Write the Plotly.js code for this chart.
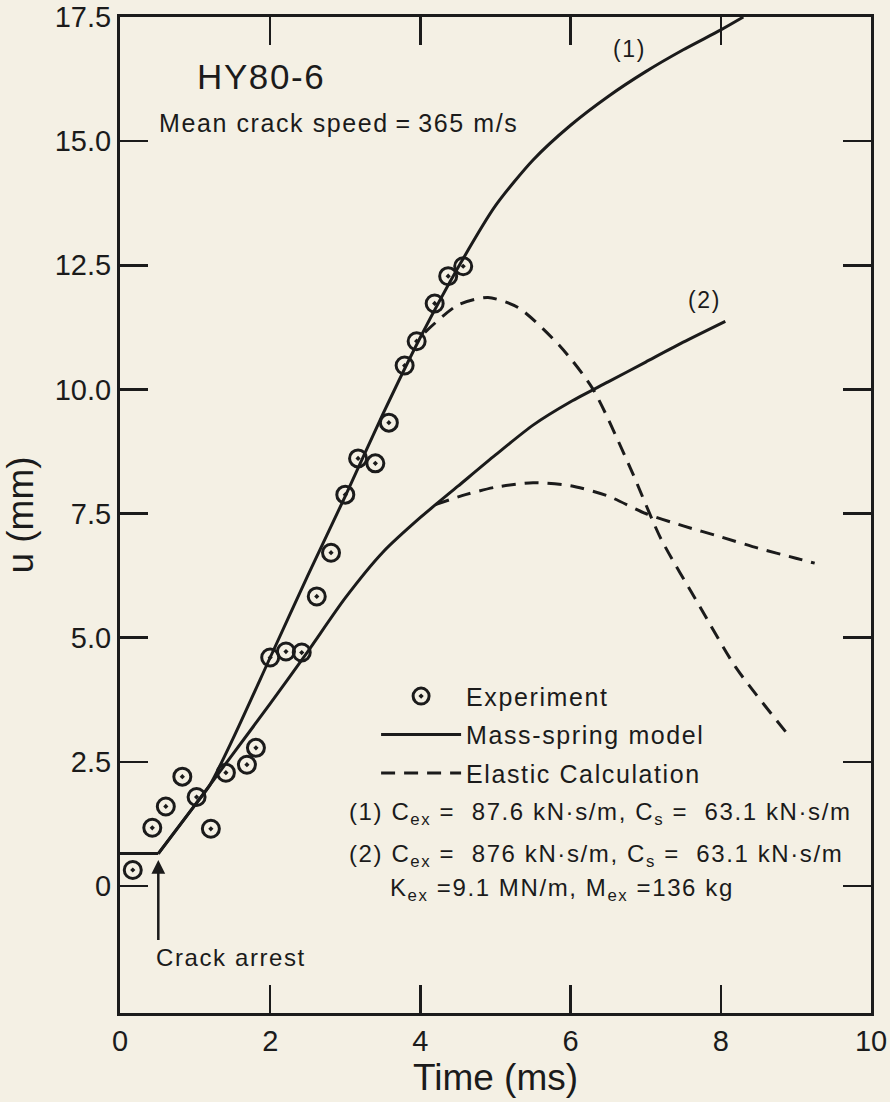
<!DOCTYPE html>
<html>
<head>
<meta charset="utf-8">
<script src="https://cdn.plot.ly/plotly-3.0.1.min.js"></script>
<style>
  body { margin: 0; background: #f4f0e4; }
  text.annotation-text, text.legendtext { letter-spacing: 1.6px; }
</style>
</head>
<body>
<div id="chart" style="width:890px;height:1102px"></div>
<script>
// Measured crack-opening displacement, HY80-6 test
const expTime = [0.17, 0.43, 0.61, 0.83, 1.02, 1.21, 1.41, 1.69, 1.81, 2.0, 2.21, 2.42, 2.62, 2.81, 3.0, 3.17, 3.4, 3.58, 3.79, 3.95, 4.19, 4.37, 4.57];
const expDisp = [0.32, 1.17, 1.6, 2.2, 1.79, 1.15, 2.28, 2.44, 2.78, 4.6, 4.72, 4.7, 5.83, 6.71, 7.88, 8.61, 8.51, 9.33, 10.48, 10.97, 11.73, 12.28, 12.48];

// Constant opening before the crack arrests (shared by both model cases)
const arrestTime = [0, 0.51];
const arrestDisp = [0.65, 0.65];

// Mass-spring model after arrest, case (1)
const model1Time = [0.51, 1.0, 1.2, 1.5, 2.0, 2.5, 3.0, 3.5, 4.0, 4.5, 5.0, 5.5, 6.0, 6.5, 7.0, 7.5, 8.0, 8.3];
const model1Disp = [0.65, 1.63, 2.04, 2.95, 4.6, 6.25, 7.85, 9.5, 11.05, 12.45, 13.7, 14.62, 15.32, 15.9, 16.4, 16.84, 17.24, 17.5];

// Mass-spring model after arrest, case (2)
const model2Time = [0.51, 1.0, 1.5, 2.0, 2.5, 3.0, 3.5, 4.0, 4.5, 5.0, 5.5, 6.0, 6.5, 7.0, 7.5, 8.06];
const model2Disp = [0.65, 1.63, 2.65, 3.67, 4.72, 5.8, 6.72, 7.42, 8.05, 8.68, 9.28, 9.75, 10.15, 10.55, 10.95, 11.37];

// Elastic calculation, case (1)
const elastic1Time = [4.06, 4.5, 4.9, 5.3, 5.86, 6.3, 6.8, 7.2, 7.72, 8.2, 8.92];
const elastic1Disp = [11.15, 11.7, 11.85, 11.65, 10.87, 10.0, 8.4, 7.0, 5.63, 4.4, 3.0];

// Elastic calculation, case (2)
const elastic2Time = [4.2, 4.6, 5.0, 5.5, 6.0, 6.5, 7.0, 7.5, 8.0, 8.5, 9.0, 9.25];
const elastic2Disp = [7.68, 7.88, 8.03, 8.12, 8.06, 7.85, 7.5, 7.25, 7.03, 6.8, 6.6, 6.5];

const xTickVals = [0, 2, 4, 6, 8, 10];
const yTickVals = [0, 2.5, 5, 7.5, 10, 12.5, 15, 17.5];
const yTickText = ['0', '2.5', '5.0', '7.5', '10.0', '12.5', '15.0', '17.5'];

const ink = '#1b1b1b';
const bg = '#f4f0e4';
const font = 'Liberation Sans, Arial, Helvetica, sans-serif';

const solid = { color: ink, width: 3, shape: 'spline', smoothing: 0.7 };
const straight = { color: ink, width: 3 };
const dashed = { color: ink, width: 3, shape: 'spline', smoothing: 0.7, dash: '14px,9px' };

const traces = [
  { x: arrestTime, y: arrestDisp, mode: 'lines', line: straight, name: 'Mass-spring model',
    legendgroup: 'model', showlegend: false, hoverinfo: 'skip' },
  { x: model1Time, y: model1Disp, mode: 'lines', line: solid, name: 'Mass-spring model',
    legendgroup: 'model', legendrank: 2, showlegend: true, hoverinfo: 'skip' },
  { x: model2Time, y: model2Disp, mode: 'lines', line: solid, name: 'Mass-spring model',
    legendgroup: 'model', showlegend: false, hoverinfo: 'skip' },
  { x: elastic1Time, y: elastic1Disp, mode: 'lines', line: dashed, name: 'Elastic Calculation',
    legendgroup: 'elastic', legendrank: 3, showlegend: true, hoverinfo: 'skip' },
  { x: elastic2Time, y: elastic2Disp, mode: 'lines', line: dashed, name: 'Elastic Calculation',
    legendgroup: 'elastic', showlegend: false, hoverinfo: 'skip' },
  { x: expTime, y: expDisp, mode: 'markers', name: 'Experiment',
    legendgroup: 'exp', legendrank: 1,
    marker: { symbol: 'circle-open-dot', size: 17, color: ink, line: { color: ink, width: 3 } } }
];

const txt = (x, y, text, size, extra) => Object.assign({
  x: x, y: y, xref: 'x', yref: 'y', text: text, showarrow: false,
  xanchor: 'left', yanchor: 'middle', font: { family: font, size: size, color: ink }
}, extra || {});

const annotations = [
  txt(1.0, 16.31, 'HY80-6', 35),
  txt(0.49, 15.36, 'Mean crack speed\u2009=\u2009365 m/s', 25),
  txt(6.79, 16.85, '(1)', 23, { xanchor: 'center' }),
  txt(7.78, 11.81, '(2)', 23, { xanchor: 'center' }),
  txt(3.02, 1.45, '(1) C<sub>ex</sub>\u00a0=\u00a0 87.6 kN\u00b7s/m, C<sub>s</sub>\u00a0=\u00a0 63.1 kN\u00b7s/m', 24),
  txt(3.02, 0.62, '(2) C<sub>ex</sub>\u00a0=\u00a0 876 kN\u00b7s/m, C<sub>s</sub>\u00a0=\u00a0 63.1 kN\u00b7s/m', 24),
  txt(3.57, -0.08, 'K<sub>ex</sub>\u00a0=9.1 MN/m, M<sub>ex</sub>\u00a0=136 kg', 24),
  txt(0.45, -1.45, 'Crack arrest', 24),
  { x: 0.51, y: 0.52, xref: 'x', yref: 'y', text: ' ', showarrow: true,
    ax: 0, ay: 84, arrowhead: 2, arrowsize: 1.1, arrowwidth: 2.5, arrowcolor: ink,
    font: { family: font, size: 4, color: ink } }
];

const axisCommon = {
  showgrid: false, zeroline: false, showline: true, linecolor: ink, linewidth: 3,
  mirror: 'ticks', ticks: 'inside', ticklen: 28, tickwidth: 2.5, tickcolor: ink,
  tickfont: { family: font, size: 29, color: ink }, fixedrange: true
};

const layout = {
  width: 890, height: 1102,
  margin: { l: 120, r: 19, t: 17, b: 89 },
  paper_bgcolor: bg, plot_bgcolor: bg,
  font: { family: font, color: ink },
  showlegend: true,
  legend: {
    x: 0.341, y: 0.341, xanchor: 'left', yanchor: 'top',
    bgcolor: 'rgba(0,0,0,0)', font: { family: font, size: 25, color: ink },
    itemwidth: 80, traceorder: 'grouped', tracegroupgap: 3
  },
  xaxis: Object.assign({}, axisCommon, {
    range: [0, 10], tickmode: 'array', tickvals: xTickVals,
    title: { text: 'Time (ms)', font: { family: font, size: 37, color: ink }, standoff: 8 }
  }),
  yaxis: Object.assign({}, axisCommon, {
    range: [-2.56, 17.5], tickmode: 'array', tickvals: yTickVals, ticktext: yTickText,
    title: { text: 'u (mm)', font: { family: font, size: 37, color: ink }, standoff: 14 }
  }),
  annotations: annotations
};

Plotly.newPlot('chart', traces, layout, { displayModeBar: false, staticPlot: true });
</script>
</body>
</html>
